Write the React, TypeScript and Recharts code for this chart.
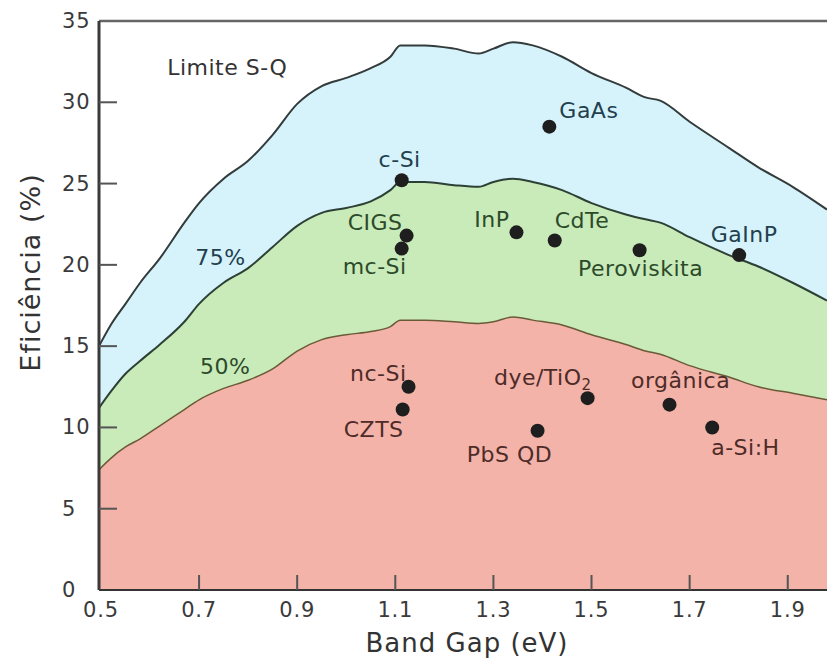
import { Area, ComposedChart, ReferenceLine, Scatter, XAxis, YAxis } from 'recharts';

// Shockley-Queisser limit and the 75% / 50% fractions, sampled along the band gap
const BAND_GAP = [
  0.496, 0.52, 0.55, 0.58, 0.62, 0.67, 0.7, 0.75, 0.8, 0.85, 0.9, 0.95, 1.0, 1.05, 1.09, 1.11,
  1.16, 1.22, 1.27, 1.3, 1.34, 1.38, 1.44, 1.5, 1.57, 1.61, 1.64, 1.7, 1.78, 1.84, 1.91, 1.98,
];
const SQ_LIMIT = [
  15.0, 16.3, 17.6, 18.9, 20.4, 22.6, 23.8, 25.3, 26.4, 28.0, 29.9, 31.0, 31.5, 32.1, 32.8, 33.5,
  33.5, 33.3, 33.0, 33.3, 33.7, 33.5, 32.8, 31.8, 30.9, 30.3, 30.1, 28.8, 27.2, 26.0, 24.8, 23.4,
];
const SQ_75 = [
  11.2, 12.2, 13.3, 14.1, 15.1, 16.5, 17.6, 18.9, 19.8, 21.1, 22.4, 23.2, 23.5, 23.9, 24.6, 25.1,
  25.1, 24.9, 24.8, 25.1, 25.3, 25.1, 24.6, 23.8, 23.1, 22.8, 22.6, 21.7, 20.6, 19.9, 18.9, 17.8,
];
const SQ_50 = [
  7.4, 8.1, 8.8, 9.3, 10.1, 11.1, 11.7, 12.4, 12.9, 13.6, 14.7, 15.4, 15.7, 15.9, 16.2, 16.6,
  16.6, 16.5, 16.4, 16.5, 16.8, 16.6, 16.3, 15.7, 15.1, 14.7, 14.5, 13.8, 13.1, 12.5, 12.1, 11.7,
];

// record cell efficiencies
const CELLS = [
  'GaAs', 'c-Si', 'CIGS', 'mc-Si', 'InP', 'CdTe', 'Peroviskita', 'GaInP',
  'nc-Si', 'CZTS', 'dye/TiO2', 'orgânica', 'PbS QD', 'a-Si:H',
];
const CELL_GAP = [1.414, 1.113, 1.123, 1.113, 1.347, 1.425, 1.598, 1.801, 1.127, 1.115, 1.492, 1.659, 1.39, 1.746];
const CELL_EFF = [28.5, 25.2, 21.8, 21.0, 22.0, 21.5, 20.9, 20.6, 12.5, 11.1, 11.8, 11.4, 9.8, 10.0];

// region captions, anchored in data space
const NOTE_TEXT = ['Limite S-Q', '75%', '50%'];
const NOTE_GAP = [0.635, 0.692, 0.702];
const NOTE_EFF = [31.7, 20.0, 13.3];

const X_MIN = 0.496;
const X_MAX = 1.98;
const Y_MAX = 35;
const X_TICKS = [0.5, 0.7, 0.9, 1.1, 1.3, 1.5, 1.7, 1.9];
const Y_TICKS = [0, 5, 10, 15, 20, 25, 30, 35];

const FONT = '"DejaVu Sans", Verdana, sans-serif';

const BLUE_TXT = '#22404e';
const GREEN_TXT = '#2c4a2a';
const RED_TXT = '#4d2b28';
const TICK_COLOR = '#555555';

type Place = { dx: number; dy: number; anchor: 'start' | 'middle' | 'end'; color: string };

const LABEL_PLACE: Record<string, Place> = {
  GaAs: { dx: 10, dy: -9, anchor: 'start', color: BLUE_TXT },
  'c-Si': { dx: -2, dy: -13, anchor: 'middle', color: BLUE_TXT },
  CIGS: { dx: -4, dy: -6, anchor: 'end', color: GREEN_TXT },
  'mc-Si': { dx: -27, dy: 25, anchor: 'middle', color: GREEN_TXT },
  InP: { dx: -7, dy: -5, anchor: 'end', color: GREEN_TXT },
  CdTe: { dx: 0, dy: -12, anchor: 'start', color: GREEN_TXT },
  Peroviskita: { dx: 1, dy: 26, anchor: 'middle', color: GREEN_TXT },
  GaInP: { dx: 5, dy: -13, anchor: 'middle', color: BLUE_TXT },
  'nc-Si': { dx: -2, dy: -6, anchor: 'end', color: RED_TXT },
  CZTS: { dx: -29, dy: 27, anchor: 'middle', color: RED_TXT },
  'dye/TiO2': { dx: 4, dy: -13, anchor: 'end', color: RED_TXT },
  orgânica: { dx: 11, dy: -17, anchor: 'middle', color: RED_TXT },
  'PbS QD': { dx: -28, dy: 31, anchor: 'middle', color: RED_TXT },
  'a-Si:H': { dx: -1, dy: 28, anchor: 'start', color: RED_TXT },
};

const NOTE_COLOR: Record<string, string> = {
  'Limite S-Q': '#333333',
  '75%': BLUE_TXT,
  '50%': GREEN_TXT,
};

const curveData = BAND_GAP.map((e, i) => ({ e, sq: SQ_LIMIT[i], p75: SQ_75[i], p50: SQ_50[i] }));

// everything drawn on top of the bands goes through one scatter layer:
// inward tick marks, region captions and the cell points
const overlayData = [
  ...X_TICKS.filter((v) => v > 0.5).map((v) => ({ kind: 'gapTick', e: v, eff: 0 })),
  ...Y_TICKS.filter((v) => v > 0 && v < Y_MAX).map((v) => ({ kind: 'effTick', e: X_MIN, eff: v })),
  ...NOTE_TEXT.map((text, i) => ({ kind: 'note', text, e: NOTE_GAP[i], eff: NOTE_EFF[i] })),
  ...CELLS.map((name, i) => ({ kind: 'cell', name, e: CELL_GAP[i], eff: CELL_EFF[i] })),
];

function GapTick({ x, y, payload }: any) {
  const v = payload.value as number;
  return (
    <text x={x} y={y + 27} textAnchor="middle" fontFamily={FONT} fontSize={21} letterSpacing={0.8} fill="#3a3a3a">
      {v.toFixed(1)}
    </text>
  );
}

function EffTick({ x, y, payload }: any) {
  const v = payload.value as number;
  return (
    <text x={x - 37} y={y + 7} textAnchor="start" fontFamily={FONT} fontSize={21} letterSpacing={0.8} fill="#3a3a3a">
      {v}
    </text>
  );
}

const overlayShape = ({ cx, cy, payload }: any) => {
  // tick marks are thin filled rects rather than lines
  if (payload.kind === 'gapTick') {
    return <rect x={cx - 1} y={cy - 15} width={2} height={15} fill={TICK_COLOR} />;
  }
  if (payload.kind === 'effTick') {
    return <rect x={cx} y={cy - 1} width={18} height={2} fill={TICK_COLOR} />;
  }
  if (payload.kind === 'note') {
    return (
      <text x={cx} y={cy} textAnchor="start" fontFamily={FONT} fontSize={22} letterSpacing={0.5} fill={NOTE_COLOR[payload.text]}>
        {payload.text}
      </text>
    );
  }
  const p = LABEL_PLACE[payload.name];
  const isDye = payload.name === 'dye/TiO2';
  return (
    <g>
      <circle cx={cx} cy={cy} r={7} fill="#1e1e1e" />
      <text
        x={cx + p.dx}
        y={cy + p.dy}
        textAnchor={p.anchor}
        fontFamily={FONT}
        fontSize={22}
        letterSpacing={0.5}
        fill={p.color}
      >
        {isDye ? (
          <>
            dye/TiO
            <tspan fontSize={15} dy={5}>2</tspan>
          </>
        ) : (
          payload.name
        )}
      </text>
    </g>
  );
};

function EffTitle({ viewBox }: any) {
  const cx = viewBox.x + 40;
  const cy = viewBox.y + viewBox.height / 2 - 33;
  return (
    <text
      x={cx}
      y={cy}
      transform={`rotate(-90, ${cx}, ${cy})`}
      textAnchor="middle"
      fontFamily={FONT}
      fontSize={27}
      letterSpacing={1}
      fill="#333"
    >
      Eficiência (%)
    </text>
  );
}

function GapTitle({ viewBox }: any) {
  return (
    <text
      x={viewBox.x + viewBox.width / 2 + 4}
      y={viewBox.y + 62}
      textAnchor="middle"
      fontFamily={FONT}
      fontSize={26}
      letterSpacing={1}
      fill="#333"
    >
      Band Gap (eV)
    </text>
  );
}

export default function App() {
  return (
    <div style={{ position: 'absolute', left: 0, top: 0, background: '#fff' }}>
      <ComposedChart width={827} height={659} data={curveData} margin={{ top: 21, right: 0, bottom: 0, left: 0 }}>
        <Area
          type="monotone"
          dataKey="sq"
          fill="#d6f3fc"
          fillOpacity={1}
          stroke="#333b3b"
          strokeWidth={2}
          isAnimationActive={false}
        />
        <Area
          type="monotone"
          dataKey="p75"
          fill="#c9eab9"
          fillOpacity={1}
          stroke="#2d4035"
          strokeWidth={2}
          isAnimationActive={false}
        />
        <Area
          type="monotone"
          dataKey="p50"
          fill="#f4b3a8"
          fillOpacity={1}
          stroke="#6a5a38"
          strokeWidth={1.5}
          isAnimationActive={false}
        />
        <ReferenceLine y={Y_MAX} stroke="#666" strokeWidth={2.5} />
        <XAxis
          dataKey="e"
          type="number"
          domain={[X_MIN, X_MAX]}
          allowDataOverflow
          ticks={X_TICKS}
          tickSize={0}
          tickMargin={0}
          tickLine={false}
          tick={<GapTick />}
          axisLine={{ stroke: '#333', strokeWidth: 2 }}
          height={69}
          label={<GapTitle />}
        />
        <YAxis
          dataKey="eff"
          type="number"
          domain={[0, Y_MAX]}
          allowDataOverflow
          ticks={Y_TICKS}
          tickSize={0}
          tickMargin={0}
          tickLine={false}
          tick={<EffTick />}
          axisLine={{ stroke: '#3a3a3a', strokeWidth: 3 }}
          width={99}
          label={<EffTitle />}
        />
        <Scatter data={overlayData} shape={overlayShape} isAnimationActive={false} />
      </ComposedChart>
    </div>
  );
}
